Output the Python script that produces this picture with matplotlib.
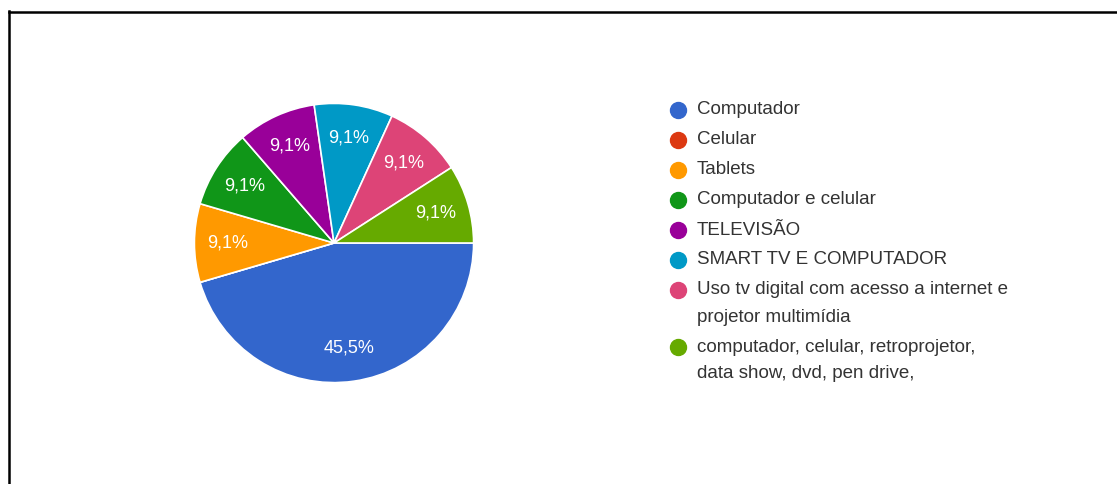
import matplotlib
matplotlib.use("Agg")
import matplotlib.pyplot as plt
from matplotlib.lines import Line2D

plt.rcParams['font.family'] = ['Liberation Sans', 'DejaVu Sans']

labels = [
    "Computador",
    "Celular",
    "Tablets",
    "Computador e celular",
    "TELEVISÃO",
    "SMART TV E COMPUTADOR",
    "Uso tv digital com acesso a internet e\nprojetor multimídia",
    "computador, celular, retroprojetor,\ndata show, dvd, pen drive,",
]
counts = [5, 0, 1, 1, 1, 1, 1, 1]
colors = ["#3366cc", "#dc3912", "#ff9900", "#109618",
          "#990099", "#0099c6", "#dd4477", "#66aa00"]

W, H = 1117, 484
fig = plt.figure(figsize=(W / 100, H / 100), dpi=100)

# frame lines along the top and left
fig.add_artist(Line2D([9.5 / W, 9.5 / W], [0, 1 - 11 / H], color="black", lw=1.8))
fig.add_artist(Line2D([9.5 / W, 1], [1 - 12 / H, 1 - 12 / H], color="black", lw=1.8))

cx, cy, r = 334, H - 243, 141
ax = fig.add_axes([(cx - r) / W, (cy - r) / H, 2 * r / W, 2 * r / H])


def fmt(p):
    return "" if p < 0.05 else f"{p:.1f}%".replace(".", ",")


wedges, texts, autotexts = ax.pie(
    counts, colors=colors, startangle=0, counterclock=False,
    autopct=fmt, pctdistance=0.76, radius=1,
    wedgeprops=dict(edgecolor="white", linewidth=1.2),
    textprops=dict(color="white", fontsize=13),
)
ax.set_xlim(-1.01, 1.01)
ax.set_ylim(-1.01, 1.01)
ax.set_aspect("equal")
ax.axis("off")

# legend: one marker per entry, wrapped labels take extra lines
x_marker, x_text = 678, 697
y = 110
line_h = 27
entry_gap = 30
for lab, col in zip(labels, colors):
    fig.add_artist(Line2D([x_marker / W], [1 - y / H], marker="o", markersize=11.5,
                          color=col, linestyle="none"))
    parts = lab.split("\n")
    for i, part in enumerate(parts):
        fig.text(x_text / W, 1 - (y + i * line_h) / H, part, fontsize=13.5,
                 color="#333333", va="center", ha="left")
    y += line_h * (len(parts) - 1) + entry_gap

fig.savefig("out.png", dpi=100, facecolor="white")
